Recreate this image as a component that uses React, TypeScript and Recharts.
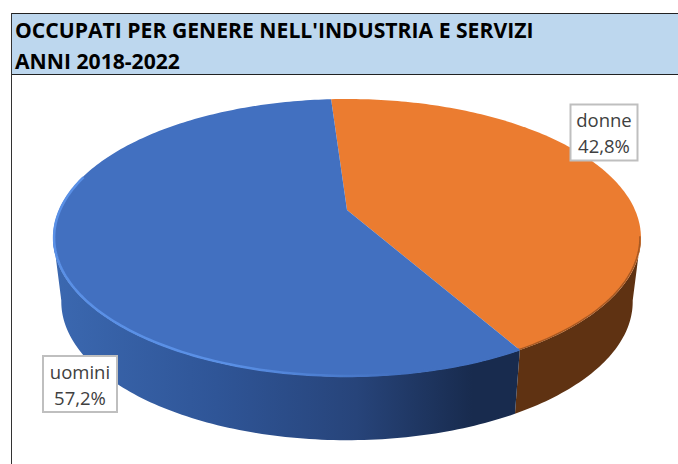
import { Pie, PieChart } from "recharts";

const categories = ["donne", "uomini"];
const shares = [42.8, 57.2];
const topColors = ["#EB7C30", "#4270C0"];
const wallColors = ["#5F3212", "url(#wallBlue)"];
const titleLines = ["OCCUPATI PER GENERE NELL'INDUSTRIA E SERVIZI", "ANNI 2018-2022"];

const data = categories.map((name, i) => ({ name, value: shares[i], fill: topColors[i] }));

const FONT = "'Open Sans', sans-serif";
const START_ANGLE = 93.8;

// perspective of the flattened disc, and of its lower face
const TILT = 0.2;
const SQUASH = 0.4625;
const DEPTH = 64;
const FLOOR_SCALE = 0.972;
const FLOOR_SQUASH = 0.475;
// part of the wall that faces the viewer
const FRONT_FROM = -11;
const FRONT_TO = -169;
const RIM_TO = -195;

const labelBoxes: Record<string, { x: number; y: number; w: number; h: number }> = {
  donne: { x: 570.5, y: 104.5, w: 67, h: 56 },
  uomini: { x: 43, y: 356, w: 74, h: 56 },
};

function project(cx: number, cy: number, r: number, angle: number, squash: number) {
  const a = (angle * Math.PI) / 180;
  const u = Math.cos(a);
  const v = Math.sin(a);
  const d = 1 + TILT * v;
  return { x: cx + (r * u) / d, y: cy - (r * squash * v) / d };
}

function arcPoints(from: number, to: number, cx: number, cy: number, r: number, squash: number) {
  const steps = Math.max(2, Math.ceil(Math.abs(from - to)));
  const pts = [];
  for (let i = 0; i <= steps; i++) {
    pts.push(project(cx, cy, r, from + ((to - from) * i) / steps, squash));
  }
  return pts;
}

const toPath = (pts: { x: number; y: number }[]) =>
  pts.map((p, i) => `${i ? "L" : "M"}${p.x.toFixed(2)},${p.y.toFixed(2)}`).join(" ");

function DiscSlice(props: any) {
  const { cx, cy, outerRadius, startAngle, endAngle, fill, index } = props;
  const rim = arcPoints(startAngle, endAngle, cx, cy, outerRadius, SQUASH);
  const from = Math.min(startAngle, FRONT_FROM);
  const to = Math.max(endAngle, FRONT_TO);
  const frontRim = arcPoints(from, to, cx, cy, outerRadius, SQUASH);
  const floor = arcPoints(from, to, cx, cy + DEPTH, outerRadius * FLOOR_SCALE, FLOOR_SQUASH);
  const edge = arcPoints(from, Math.max(endAngle, RIM_TO), cx, cy, outerRadius - 1, SQUASH);
  return (
    <g>
      <path d={`${toPath(frontRim)} ${toPath([...floor].reverse()).replace("M", "L")} Z`} fill={wallColors[index]} />
      <path d={`M${cx},${cy} ${toPath(rim).replace("M", "L")} Z`} fill={fill} />
      <path
        d={toPath(edge)}
        fill="none"
        stroke={index === 1 ? "url(#rimBlue)" : "#8A4A1E"}
        strokeWidth={index === 1 ? 2.5 : 1.5}
        strokeOpacity={index === 1 ? 1 : 0.7}
        filter="url(#softEdge)"
      />
    </g>
  );
}

function SliceLabel(props: any) {
  const { name, value } = props;
  const box = labelBoxes[name];
  const mid = box.x + box.w / 2;
  return (
    <g>
      <rect x={box.x} y={box.y} width={box.w} height={box.h} fill="#fff" stroke="#BFBFBF" strokeWidth={2} />
      <text x={mid} y={box.y + 22.5} textAnchor="middle" fontFamily={FONT} fontSize={18.5} fill="#404040">
        {name}
      </text>
      <text x={mid} y={box.y + 48.5} textAnchor="middle" fontFamily={FONT} fontSize={18.5} fill="#404040">
        {value.toFixed(1).replace(".", ",")}%
      </text>
    </g>
  );
}

export default function App() {
  return (
    <div style={{ position: "absolute", left: 0, top: 0, width: 678, height: 464, overflow: "hidden", background: "#fff" }}>
      <div
        style={{
          position: "absolute",
          left: 11,
          top: 13,
          width: 667,
          height: 60,
          background: "#BDD7EE",
          borderTop: "1px solid #222",
          borderBottom: "1px solid #222",
          fontFamily: FONT,
          fontWeight: 700,
          fontSize: 21.15,
          lineHeight: "31px",
          color: "#000",
          paddingLeft: 4,
          boxSizing: "content-box",
          whiteSpace: "nowrap",
        }}
      >
        {titleLines.map((line) => (
          <div key={line}>{line}</div>
        ))}
      </div>
      <div style={{ position: "absolute", left: 11, top: 13, width: 1, height: 451, background: "#333" }} />
      <div style={{ position: "absolute", left: 0, top: 0 }}>
        <PieChart width={678} height={464} margin={{ top: 0, right: 0, bottom: 0, left: 0 }}>
          <defs>
            <linearGradient id="wallBlue" gradientUnits="userSpaceOnUse" x1="54" y1="0" x2="519" y2="0">
              <stop offset="0%" stopColor="#3B68B0" />
              <stop offset="35%" stopColor="#2F5597" />
              <stop offset="65%" stopColor="#27447A" />
              <stop offset="90%" stopColor="#182B4E" />
              <stop offset="100%" stopColor="#182B4E" />
            </linearGradient>
            <linearGradient id="rimBlue" gradientUnits="userSpaceOnUse" x1="54" y1="0" x2="400" y2="0">
              <stop offset="0%" stopColor="#5A90E6" />
              <stop offset="50%" stopColor="#5A90E6" />
              <stop offset="100%" stopColor="#4270C0" />
            </linearGradient>
            <filter id="softEdge" x="-5%" y="-5%" width="110%" height="110%">
              <feGaussianBlur stdDeviation="0.6" />
            </filter>
          </defs>
          <Pie
            data={data}
            dataKey="value"
            nameKey="name"
            cx={347}
            cy={210}
            innerRadius={0}
            outerRadius={288}
            startAngle={START_ANGLE}
            endAngle={START_ANGLE - 360}
            paddingAngle={0}
            stroke="none"
            shape={DiscSlice}
            label={SliceLabel}
            labelLine={false}
            isAnimationActive={false}
          />
        </PieChart>
      </div>
    </div>
  );
}
